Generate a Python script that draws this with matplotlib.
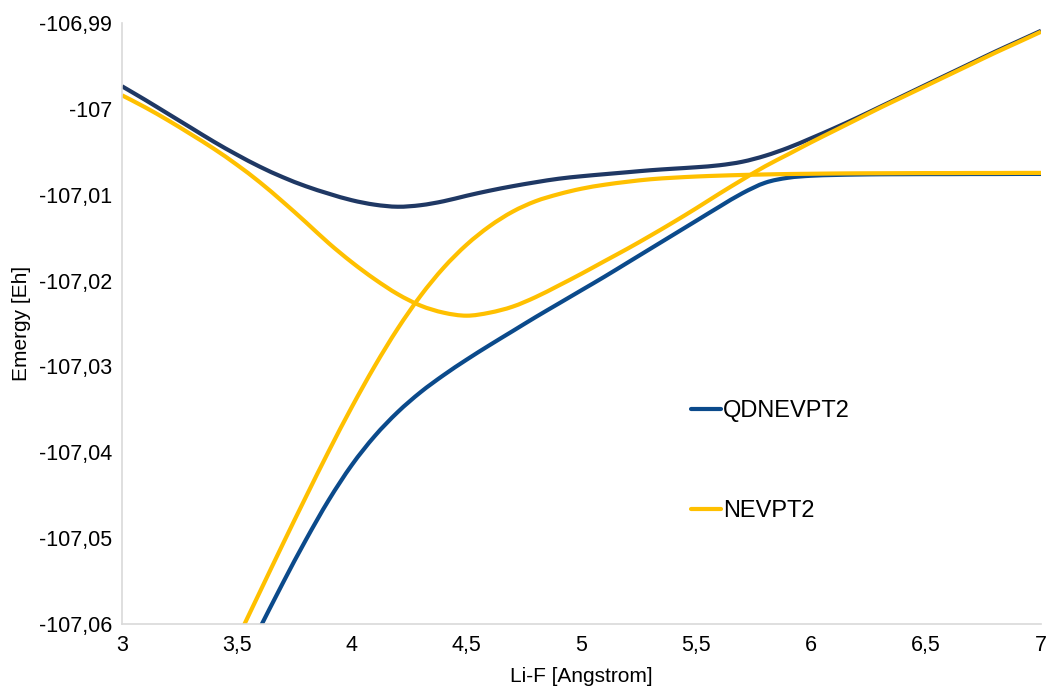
import matplotlib
matplotlib.use("Agg")
import matplotlib.pyplot as plt
from matplotlib.path import Path
from matplotlib.patches import PathPatch
from matplotlib.lines import Line2D

plt.rcParams['font.family'] = ['Liberation Sans', 'DejaVu Sans']

# ---------------- data ----------------
r_full = [3.0, 3.1, 3.2, 3.3, 3.4, 3.5, 3.6, 3.7, 3.8, 3.9,
          4.0, 4.1, 4.2, 4.3, 4.4, 4.5, 4.6, 4.7, 4.8, 4.9,
          5.0, 5.1, 5.2, 5.3, 5.4, 5.5, 5.6, 5.7, 5.8, 5.9,
          6.0, 6.1, 6.2, 6.3, 6.4, 6.5, 6.6, 6.7, 6.8, 6.9, 7.0]

# QDNEVPT2 upper state (dark navy)
qd_upper = [-106.99737, -106.99894, -107.00057, -107.00220, -107.00383,
            -107.00534, -107.00674, -107.00796, -107.00901, -107.00988,
            -107.01064, -107.01116, -107.01140, -107.01122, -107.01076,
            -107.01012, -107.00953, -107.00901, -107.00855, -107.00814,
            -107.00785, -107.00761, -107.00738, -107.00715, -107.00697,
            -107.00680, -107.00657, -107.00616, -107.00546, -107.00453,
            -107.00342, -107.00226, -107.00104, -106.99976, -106.99848,
            -106.99719, -106.99591, -106.99463, -106.99335, -106.99213,
            -106.99091]

# NEVPT2 state A (starts high, dips, then rises)
nev_a = [-106.99842, -106.99981, -107.00133, -107.00296, -107.00465,
         -107.00651, -107.00855, -107.01082, -107.01320, -107.01565,
         -107.01786, -107.01984, -107.02158, -107.02292, -107.02374,
         -107.02409, -107.02374, -107.02304, -107.02193, -107.02059,
         -107.01920, -107.01774, -107.01629, -107.01477, -107.01320,
         -107.01157, -107.00988, -107.00825, -107.00668, -107.00529,
         -107.00389, -107.00255, -107.00121, -106.99987, -106.99859,
         -106.99731, -106.99603, -106.99475, -106.99347, -106.99225,
         -106.99102]

# series that start below the plotted range
r_b = [3.5, 3.6, 3.7, 3.8, 3.9,
       4.0, 4.1, 4.2, 4.3, 4.4, 4.5, 4.6, 4.7, 4.8, 4.9,
       5.0, 5.1, 5.2, 5.3, 5.4, 5.5, 5.6, 5.7, 5.8, 5.9,
       6.0, 6.1, 6.2, 6.3, 6.4, 6.5, 6.6, 6.7, 6.8, 6.9, 7.0]

# NEVPT2 state B (rises steeply, then flat)
nev_b = [-107.06186, -107.05627, -107.05069, -107.04522, -107.03986,
         -107.03474, -107.02996, -107.02560, -107.02176, -107.01850,
         -107.01582, -107.01367, -107.01198, -107.01076, -107.00994,
         -107.00930, -107.00884, -107.00849, -107.00820, -107.00802,
         -107.00788, -107.00778, -107.00770, -107.00764, -107.00759,
         -107.00756, -107.00753, -107.00751, -107.00750, -107.00749,
         -107.00748, -107.00748, -107.00747, -107.00747, -107.00746,
         -107.00746]

r_c = [3.6, 3.7, 3.8, 3.9,
       4.0, 4.1, 4.2, 4.3, 4.4, 4.5, 4.6, 4.7, 4.8, 4.9,
       5.0, 5.1, 5.2, 5.3, 5.4, 5.5, 5.6, 5.7, 5.8, 5.9,
       6.0, 6.1, 6.2, 6.3, 6.4, 6.5, 6.6, 6.7, 6.8, 6.9, 7.0]

# QDNEVPT2 lower state (blue)
qd_lower = [-107.06047, -107.05523, -107.05022, -107.04556,
            -107.04149, -107.03811, -107.03532, -107.03299, -107.03101,
            -107.02921, -107.02752, -107.02589, -107.02426, -107.02269,
            -107.02112, -107.01955, -107.01792, -107.01629, -107.01466,
            -107.01303, -107.01140, -107.00983, -107.00860, -107.00802,
            -107.00779, -107.00770, -107.00765, -107.00762, -107.00761,
            -107.00760, -107.00760, -107.00759, -107.00759, -107.00758,
            -107.00758]

x_ticks = [3, 3.5, 4, 4.5, 5, 5.5, 6, 6.5, 7]
x_tick_labels = ['3', '3,5', '4', '4,5', '5', '5,5', '6', '6,5', '7']
y_ticks = [-107.06, -107.05, -107.04, -107.03, -107.02, -107.01, -107.0, -106.99]
y_tick_labels = ['-107,06', '-107,05', '-107,04', '-107,03', '-107,02',
                 '-107,01', '-107', '-106,99']

series_names = ['QDNEVPT2', 'NEVPT2']

# ---------------- styles ----------------
NAVY = '#1F3864'
BLUE = '#0B4A8B'
YELLOW = '#FFC000'
LW = 3.0


def smooth_path(xs, ys):
    pts = list(zip(xs, ys))
    n = len(pts)
    verts = [pts[0]]
    codes = [Path.MOVETO]
    for i in range(n - 1):
        p0 = pts[i - 1] if i > 0 else pts[i]
        p1 = pts[i]
        p2 = pts[i + 1]
        p3 = pts[i + 2] if i + 2 < n else pts[i + 1]
        c1 = (p1[0] + (p2[0] - p0[0]) / 6.0, p1[1] + (p2[1] - p0[1]) / 6.0)
        c2 = (p2[0] - (p3[0] - p1[0]) / 6.0, p2[1] - (p3[1] - p1[1]) / 6.0)
        verts += [c1, c2, p2]
        codes += [Path.CURVE4] * 3
    return Path(verts, codes)


W, H = 1047, 686
fig = plt.figure(figsize=(W / 100, H / 100), dpi=100)
ax = fig.add_axes([122 / W, 1 - 624 / H, (1041 - 122) / W, (624 - 23) / H])

for xs, ys, col in [(r_full, qd_upper, NAVY), (r_c, qd_lower, BLUE),
                    (r_full, nev_a, YELLOW), (r_b, nev_b, YELLOW)]:
    patch = PathPatch(smooth_path(xs, ys), facecolor='none', edgecolor=col,
                      lw=LW, capstyle='butt', joinstyle='round')
    ax.add_patch(patch)

ax.set_xlim(3, 7)
ax.set_ylim(-107.06, -106.99)
ax.set_xticks(x_ticks)
ax.set_xticklabels(x_tick_labels)
ax.set_yticks(y_ticks)
ax.set_yticklabels(y_tick_labels)
ax.tick_params(axis='both', length=0, labelsize=15.5, colors='#000000')
ax.tick_params(axis='x', pad=8)
ax.tick_params(axis='y', pad=7)

for s in ['top', 'right']:
    ax.spines[s].set_visible(False)
for s in ['left', 'bottom']:
    ax.spines[s].set_color('#D9D9D9')
    ax.spines[s].set_linewidth(1.2)

ax.set_xlabel('Li-F [Angstrom]', fontsize=15, labelpad=8)
ax.set_ylabel('Emergy [Eh]', fontsize=15, labelpad=6)

handles = [Line2D([], [], color=BLUE, lw=LW, solid_capstyle='round'),
           Line2D([], [], color=YELLOW, lw=LW, solid_capstyle='round')]
leg = ax.legend(handles, series_names, loc='center left',
                bbox_to_anchor=(691 / W, 1 - 461 / H),
                bbox_transform=fig.transFigure, frameon=False,
                fontsize=17, handlelength=1.25, handletextpad=0.1,
                labelspacing=3.3, borderpad=0, borderaxespad=0)

fig.savefig('out.png', dpi=100)
